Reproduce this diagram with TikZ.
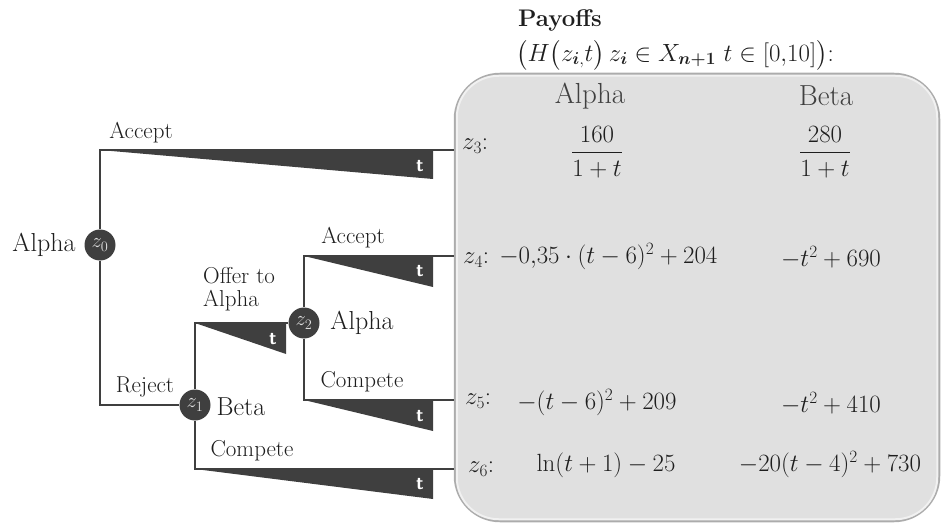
\documentclass[tikz,border=0pt]{standalone}
\usepackage{amsmath}
\usetikzlibrary{calc}
\definecolor{dk}{HTML}{3F3F3F}
\definecolor{boxfill}{HTML}{E0E0E0}
\definecolor{txt}{HTML}{1E1E1E}
\begin{document}
\begin{tikzpicture}[x=1pt,y=-1pt,
  edge/.style={draw=dk, line width=1.8pt},
  wedge/.style={fill=dk},
  dec/.style={circle, fill=dk, minimum size=31pt, inner sep=0pt, text=gray!25, font=\fontsize{20}{22}\selectfont},
  lbl/.style={font=\fontsize{23}{23}\selectfont, text=txt, inner sep=0pt},
  who/.style={font=\fontsize{26}{28}\selectfont, text=txt, inner sep=0pt},
  tlab/.style={text=white, font=\sffamily\bfseries\fontsize{19}{20}\selectfont, inner sep=0pt},
  pay/.style={font=\fontsize{25}{28}\selectfont, text=txt, inner sep=0pt},
  hdr/.style={font=\fontsize{29}{30}\selectfont, text=black!75, inner sep=0pt},
  paybox/.style={draw=gray!65, line width=2.5pt, fill=boxfill, rounded corners=45pt, inner sep=0pt}
]
\useasboundingbox (0,0) rectangle (943,524);

% payoff box
\node[paybox, minimum width=484pt, minimum height=447pt] (box) at (697,297.5) {};
\draw[white!55!boxfill, line width=2pt, rounded corners=42pt]
  ($(box.north west)+(3,3)$) rectangle ($(box.south east)+(-3,-3)$);

% decision nodes
\node[dec] (z0) at (100,245) {$z_0$};
\node[dec] (z1) at (195,405) {$z_1$};
\node[dec] (z2) at (304,323) {$z_2$};

% corner coordinates
\coordinate (c3) at (100,150);
\coordinate (c0r) at (100,405);
\coordinate (c1u) at (195,323);
\coordinate (c1d) at (195,469);
\coordinate (c2u) at (304,256);
\coordinate (c2d) at (304,400);

% wedges
\fill[wedge] (c3) -- (433,150) -- (433,179) -- cycle;
\fill[wedge] (c1u) -- (286,323) -- (286,354) -- cycle;
\fill[wedge] (c2u) -- (433,256) -- (433,287) -- cycle;
\fill[wedge] (c2d) -- (433,400) -- (433,431) -- cycle;
\fill[wedge] (c1d) -- (433,469) -- (433,499) -- cycle;

% connectors
\draw[edge] (z0) -- (c3) -- (c3 -| box.west);
\draw[edge] (z0) -- (c0r) -- (z1);
\draw[edge] (z1) -- (c1u) -- (z2);
\draw[edge] (z1) -- (c1d) -- (c1d -| box.west);
\draw[edge] (z2) -- (c2u) -- (c2u -| box.west);
\draw[edge] (z2) -- (c2d) -- (c2d -| box.west);

% t labels
\node[tlab] (t3) at (420,166) {t};
\node[tlab] (t1) at (273,339) {t};
\node[tlab] (t4) at (420,271) {t};
\node[tlab] (t5) at (420,416) {t};
\node[tlab] (t6) at (420,484) {t};

% tree labels
\node[lbl] (lacc1) at (141,133) {Accept};
\node[who] (la0) at (44,245) {Alpha};
\node[lbl] (lacc2) at (353,238) {Accept};
\node[lbl, align=left, anchor=west] (loff) at (203,289) {Offer to\\Alpha};
\node[lbl] (lrej) at (145,387) {Reject};
\node[who] (lb1) at (241,407) {Beta};
\node[who] (la2) at (362,323) {Alpha};
\node[lbl] (lcomp2) at (362,382) {Compete};
\node[lbl] (lcomp1) at (252,451) {Compete};

% payoff title
\node[font=\bfseries\fontsize{24}{28}\selectfont, text=txt, inner sep=0pt, anchor=west] (ptitle) at (518,21) {Payof{}fs};
\node[pay, anchor=west] (pform) at (516,55)
  {$\bigl(H\bigl(z_{\boldsymbol{i},}t\bigr)\,z_{\boldsymbol{i}}\in X_{\boldsymbol{n+1}}\ t\in[0{,}10]\bigr)$:};

% headers
\node[hdr] (hA) at (590,96) {Alpha};
\node[hdr] (hB) at (826,96) {Beta};

% rows
\node[pay, anchor=west] (r3) at (462,146) {$z_3$:};
\node[pay] (a3v) at (597,152) {$\dfrac{160}{1+t}$};
\node[pay] (b3v) at (825,152) {$\dfrac{280}{1+t}$};

\node[pay, anchor=west] (r4) at (463,257) {$z_4$: $-0{,}35\cdot(t-6)^2+204$};
\node[pay] (b4v) at (831,257) {$-t^2+690$};

\node[pay, anchor=west] (r5) at (465,401) {$z_5$:};
\node[pay] (a5v) at (597,403) {$-(t-6)^2+209$};
\node[pay] (b5v) at (831,403) {$-t^2+410$};

\node[pay, anchor=west] (r6) at (468,469) {$z_6$:};
\node[pay] (a6v) at (606,465) {$\ln(t+1)-25$};
\node[pay] (b6v) at (830,465) {$-20(t-4)^2+730$};
\end{tikzpicture}
\end{document}
